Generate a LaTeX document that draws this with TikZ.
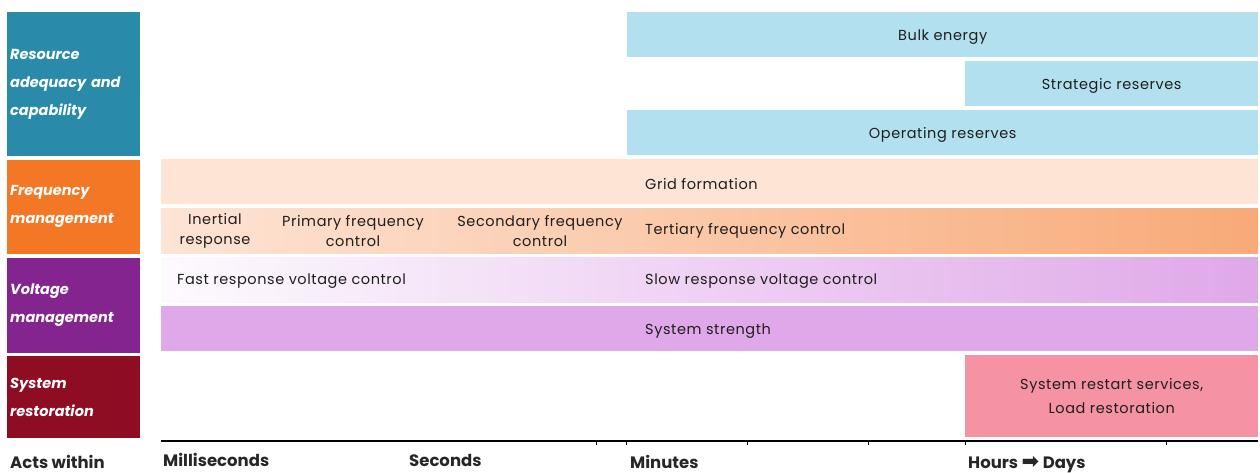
\documentclass[tikz,border=0pt]{standalone}
\usepackage{fontspec}
\setmainfont{Poppins}
\newfontfamily\bandfont{Poppins}[LetterSpace=4]
\newfontfamily\arrowfont{DejaVu Sans}
\usepackage{xcolor}
\usepackage{tikz}
\usetikzlibrary{positioning}
\definecolor{resblue}{HTML}{2A8AAA}
\definecolor{freqorange}{HTML}{F47725}
\definecolor{voltpurple}{HTML}{84248F}
\definecolor{restred}{HTML}{8E0D23}
\definecolor{bandblue}{HTML}{B3E0EF}
\definecolor{peachlight}{HTML}{FDE4D5}
\definecolor{peachdark}{HTML}{F8AA78}
\definecolor{lilacwhite}{HTML}{FDFAFE}
\definecolor{lilac}{HTML}{DFA8E8}
\definecolor{restartpink}{HTML}{F593A5}
\definecolor{inktext}{HTML}{1E1E1E}
\definecolor{axistext}{HTML}{262626}
\tikzset{
  catbox/.style={anchor=north west, minimum width=133, text width=127, inner xsep=3, inner ysep=0, align=left, text=white, font=\fontsize{14.5}{28}\selectfont\bfseries\itshape},
  band/.style={anchor=north west, inner sep=0, minimum height=45, draw=none, text=inktext, font=\bandfont\fontsize{14.5}{24}\selectfont, align=center},
  bandlabel/.style={anchor=west, inner sep=0, text=inktext, font=\bandfont\fontsize{14.5}{20}\selectfont},
  sublabel/.style={inner sep=0, text=inktext, align=center, font=\bandfont\fontsize{14.5}{20}\selectfont},
  axislabel/.style={anchor=base west, inner sep=0, text=axistext, font=\fontsize{16.5}{18}\selectfont\bfseries},
  axisline/.style={line width=2.5, draw=black},
  axistick/.style={line width=1, draw=black}
}
\begin{document}
\begin{tikzpicture}[x=1pt,y=-1pt]
  \useasboundingbox (0,0) rectangle (1260,473);
  % service categories
  \node[catbox, fill=resblue, minimum height=144] (resource) at (7,12) {Resource\\adequacy and\\capability};
  \node[catbox, fill=freqorange, minimum height=94, below=3pt of resource] (frequency) {Frequency\\management};
  \node[catbox, fill=voltpurple, minimum height=95, below=4pt of frequency] (voltage) {Voltage\\management};
  \node[catbox, fill=restred, minimum height=82, below=3pt of voltage] (restoration) {System\\restoration};
  % resource adequacy bands
  \node[band, fill=bandblue, minimum width=631, text height=16pt, text depth=4pt] (bulk) at (627,12) {Bulk energy};
  \node[band, fill=bandblue, minimum width=293, text height=16pt, text depth=4pt] (strategic) at (965,61) {Strategic reserves};
  \node[band, fill=bandblue, minimum width=631, text height=16pt, text depth=4pt] (operating) at (627,110) {Operating reserves};
  % frequency bands
  \node[band, fill=peachlight, minimum width=1097] (grid) at (161,159) {};
  \node[bandlabel] (gridtxt) at (645,184) {Grid formation};
  \node[band, left color=peachlight, right color=peachdark, minimum width=1097] (freqctl) at (161,208) {};
  \node[sublabel] (inertial) at (215,231) {Inertial\\response};
  \node[sublabel] (primary) at (353,231) {Primary frequency\\control};
  \node[sublabel] (secondary) at (540,231) {Secondary frequency\\control};
  \node[bandlabel] (tertiary) at (645,231) {Tertiary frequency control};
  % voltage bands
  \node[band, left color=lilacwhite, right color=lilac, minimum width=1097] (voltctl) at (161,257) {};
  \node[bandlabel] (fastv) at (177,281) {Fast response voltage control};
  \node[bandlabel] (slowv) at (645,281) {Slow response voltage control};
  \node[band, fill=lilac, minimum width=1097] (strength) at (161,306) {};
  \node[bandlabel] (strengthtxt) at (645,331) {System strength};
  % restoration band
  \node[band, fill=restartpink, minimum width=293, minimum height=82] (restart) at (965,355) {System restart services,\\Load restoration};
  % time axis
  \coordinate (axisstart) at (161,441);
  \coordinate (axisend) at (1258,441);
  \draw[axisline] (axisstart) -- (axisend);
  \foreach \tx in {596,626,747,868,965,1166}
    \draw[axistick] (\tx,441) -- (\tx,445);
  \node[axislabel] (actswithin) at (10,468) {Acts within};
  \node[axislabel] (millis) at (163,466) {Milliseconds};
  \node[axislabel] (secs) at (409,466) {Seconds};
  \node[axislabel] (mins) at (630,468) {Minutes};
  \node[axislabel] (hours) at (968,468) {Hours {\arrowfont\fontsize{21}{18}\selectfont ➡} Days};
\end{tikzpicture}
\end{document}
